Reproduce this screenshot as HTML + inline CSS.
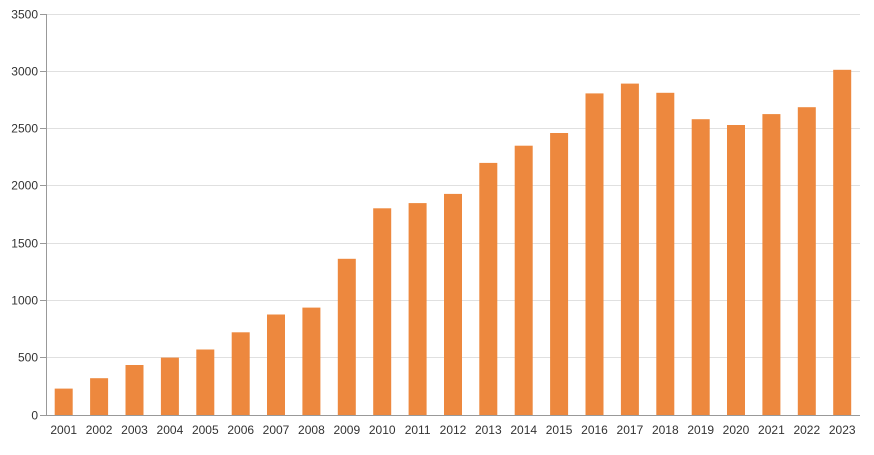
<!DOCTYPE html>
<html><head><meta charset="utf-8"><style>
body{margin:0;background:#fff}
text{font-family:"Segoe UI","Liberation Sans",sans-serif;font-size:12px;fill:#333}
</style></head><body>
<svg width="874" height="450" xmlns="http://www.w3.org/2000/svg">
<g stroke="#e0e0e0" stroke-width="1">
<line x1="46" x2="860" y1="14.5" y2="14.5"/><line x1="46" x2="860" y1="71.5" y2="71.5"/>
<line x1="46" x2="860" y1="128.5" y2="128.5"/><line x1="46" x2="860" y1="185.5" y2="185.5"/>
<line x1="46" x2="860" y1="243.5" y2="243.5"/><line x1="46" x2="860" y1="300.5" y2="300.5"/>
<line x1="46" x2="860" y1="357.5" y2="357.5"/>
</g>
<g stroke="#999"><line x1="40" x2="46" y1="14.5" y2="14.5"/><line x1="40" x2="46" y1="71.5" y2="71.5"/><line x1="40" x2="46" y1="128.5" y2="128.5"/><line x1="40" x2="46" y1="185.5" y2="185.5"/><line x1="40" x2="46" y1="243.5" y2="243.5"/><line x1="40" x2="46" y1="300.5" y2="300.5"/><line x1="40" x2="46" y1="357.5" y2="357.5"/><line x1="40" x2="46" y1="415.5" y2="415.5"/></g>
<g transform="translate(0,415) scale(1,-1)" fill="#ed883e">
<rect x="54.7" y="0" width="18" height="26.4"/><rect x="90.1" y="0" width="18" height="36.8"/>
<rect x="125.5" y="0" width="18" height="50"/><rect x="160.9" y="0" width="18" height="57.4"/>
<rect x="196.3" y="0" width="18" height="65.5"/><rect x="231.7" y="0" width="18" height="82.7"/>
<rect x="267" y="0" width="18" height="100.5"/><rect x="302.4" y="0" width="18" height="107.4"/>
<rect x="337.8" y="0" width="18" height="156.2"/><rect x="373.2" y="0" width="18" height="206.7"/>
<rect x="408.6" y="0" width="18" height="211.9"/><rect x="444" y="0" width="18" height="221.1"/>
<rect x="479.3" y="0" width="18" height="252.1"/><rect x="514.7" y="0" width="18" height="269.3"/>
<rect x="550.1" y="0" width="18" height="282"/><rect x="585.5" y="0" width="18" height="321.6"/>
<rect x="620.9" y="0" width="18" height="331.4"/><rect x="656.3" y="0" width="18" height="322.2"/>
<rect x="691.7" y="0" width="18" height="295.8"/><rect x="727" y="0" width="18" height="290"/>
<rect x="762.4" y="0" width="18" height="300.9"/><rect x="797.8" y="0" width="18" height="307.8"/>
<rect x="833.2" y="0" width="18" height="345.2"/>
</g>
<line x1="46.5" x2="46.5" y1="14" y2="416" stroke="#999"/>
<line x1="46" x2="860" y1="415.5" y2="415.5" stroke="#999"/>
<g text-anchor="end">
<text x="38" y="18.5">3500</text><text x="38" y="75.5">3000</text><text x="38" y="132.5">2500</text>
<text x="38" y="189.5">2000</text><text x="38" y="247.5">1500</text><text x="38" y="304.5">1000</text>
<text x="38" y="361.5">500</text><text x="38" y="419.5">0</text>
</g>
<g text-anchor="middle">
<text x="63.7" y="434">2001</text><text x="99.1" y="434">2002</text><text x="134.5" y="434">2003</text>
<text x="169.9" y="434">2004</text><text x="205.3" y="434">2005</text><text x="240.7" y="434">2006</text>
<text x="276" y="434">2007</text><text x="311.4" y="434">2008</text><text x="346.8" y="434">2009</text>
<text x="382.2" y="434">2010</text><text x="417.6" y="434">2011</text><text x="453" y="434">2012</text>
<text x="488.3" y="434">2013</text><text x="523.7" y="434">2014</text><text x="559.1" y="434">2015</text>
<text x="594.5" y="434">2016</text><text x="629.9" y="434">2017</text><text x="665.3" y="434">2018</text>
<text x="700.7" y="434">2019</text><text x="736" y="434">2020</text><text x="771.4" y="434">2021</text>
<text x="806.8" y="434">2022</text><text x="842.2" y="434">2023</text>
</g>
</svg>
</body></html>
